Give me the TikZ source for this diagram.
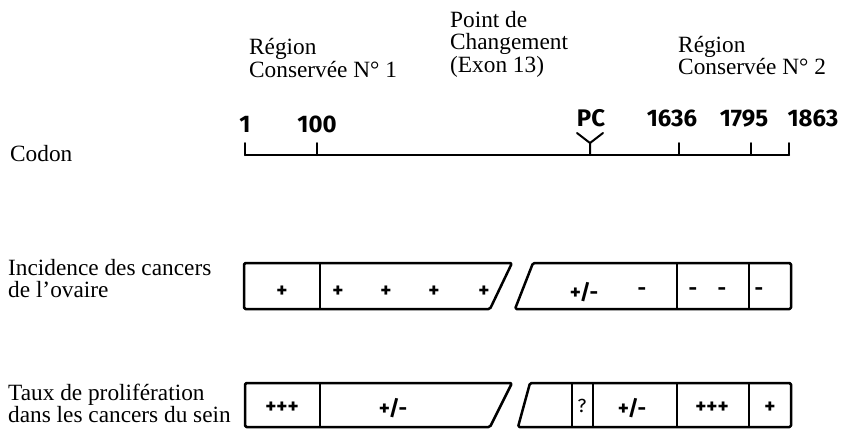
\documentclass[tikz,border=0pt]{standalone}
\usepackage{fontspec}
\setmainfont{Liberation Serif}
\newfontfamily\numfont{Fira Sans}
\begin{document}
\begin{tikzpicture}[x=1pt,y=-1pt,
  lbl/.style={anchor=base west,inner sep=0pt,font=\fontsize{23.3}{22}\selectfont},
  num/.style={anchor=base,inner sep=0pt,font=\numfont\bfseries\fontsize{24}{24}\selectfont},
  sym/.style={inner sep=0pt,font=\numfont\bfseries\fontsize{21}{21}\selectfont},
  boxline/.style={line width=2.5pt,line join=round,rounded corners=1.5pt},
  divline/.style={line width=2.3pt},
  axisline/.style={line width=2pt,line cap=round}]
\useasboundingbox (0,0) rectangle (843,432);

% row labels
\node[lbl] (codon) at (10,161) {Codon};
\node[lbl] (inc1) at (8,275) {Incidence des cancers};
\node[lbl] (inc2) at (8,297) {de l’ovaire};
\node[lbl] (taux1) at (8,400) {Taux de prolifération};
\node[lbl] (taux2) at (8,422) {dans les cancers du sein};

% top labels
\node[lbl] (r1a) at (249,54) {Région};
\node[lbl] (r1b) at (249,77) {Conservée N° 1};
\node[lbl] (pca) at (450,27) {Point de};
\node[lbl] (pcb) at (450,49) {Changement};
\node[lbl] (pcc) at (450,72) {(Exon 13)};
\node[lbl] (r2a) at (678,52) {Région};
\node[lbl] (r2b) at (678,74) {Conservée N° 2};

% codon axis
\coordinate (a0) at (245,155);
\coordinate (a1) at (789,155);
\draw[axisline] (a0) -- (a1);
\foreach \x/\n in {245/t1,317/t100,679/t1636,751/t1795,789/t1863}{
  \coordinate (\n) at (\x,143);
  \draw[axisline] (\n) -- (\x,155);
}
\coordinate (pcbase) at (590,155);
\coordinate (pcfork) at (590,143);
\coordinate (pcl) at (577,133);
\coordinate (pcr) at (603,133);
\draw[axisline,line join=round] (pcbase) -- (pcfork) -- (pcl);
\draw[axisline] (pcfork) -- (pcr);

\node[num] (n1) at (245,132) {1};
\node[num] (n100) at (317,132) {100};
\node[num] (npc) at (591,126) {PC};
\node[num] (n1636) at (672,126) {1636};
\node[num] (n1795) at (744,126) {1795};
\node[num] (n1863) at (813,126) {1863};

% row 1 : ovarian cancer incidence
\draw[boxline] (244,263) -- (512,263) -- (490,309) -- (244,309) -- cycle;
\draw[divline] (320,263) -- (320,309);
\draw[boxline] (533,263) -- (791,263) -- (791,309) -- (515,309) -- cycle;
\draw[divline] (677,263) -- (677,309);
\draw[divline] (749,263) -- (749,309);

\node[sym] (o1) at (282,292) {+};
\node[sym] (o2) at (338,292) {+};
\node[sym] (o3) at (386,292) {+};
\node[sym] (o4) at (434,292) {+};
\node[sym] (o5) at (484,292) {+};
\node[sym] (o6) at (584,292) {+/-};
\node[sym] (o7) at (642,292) {-};
\node[sym] (o8) at (693,292) {-};
\node[sym] (o9) at (722,292) {-};
\node[sym] (o10) at (759,292) {-};

% row 2 : proliferation rate
\draw[boxline] (245,383) -- (512,383) -- (490,427) -- (245,427) -- cycle;
\draw[divline] (320,383) -- (320,427);
\draw[boxline] (530,383) -- (791,383) -- (791,427) -- (518,427) -- cycle;
\draw[divline] (572,383) -- (572,427);
\draw[divline] (593,383) -- (593,427);
\draw[divline] (677,383) -- (677,427);
\draw[divline] (749,383) -- (749,427);

\node[sym] (p1) at (282,408) {+++};
\node[sym] (p2) at (393,408) {+/-};
\node[sym,font=\numfont\fontsize{19}{19}\selectfont] (p3) at (582,406) {?};
\node[sym] (p4) at (632,408) {+/-};
\node[sym] (p5) at (712,408) {+++};
\node[sym] (p6) at (770,408) {+};
\end{tikzpicture}
\end{document}
